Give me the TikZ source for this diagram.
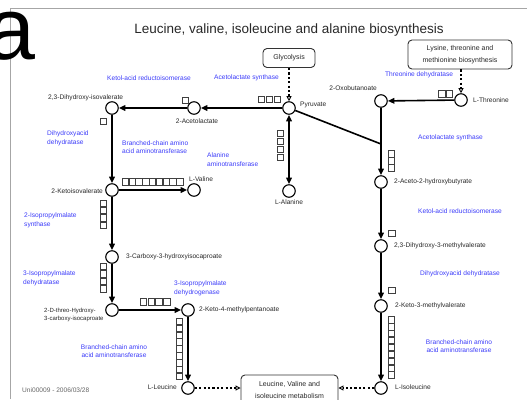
\documentclass[tikz,border=0pt]{standalone}
\usepackage{fontspec}
\setmainfont{Liberation Sans}
\usetikzlibrary{arrows.meta}
\definecolor{enzblue}{RGB}{60,60,250}
\definecolor{txtgray}{RGB}{40,40,40}
\newcommand\enzrow[4]{\foreach \k in {1,...,#3}{\draw[ebox] ({#1+(\k-1)*#4},#2) rectangle ++(6.4,6.4);}}
\newcommand\enzcol[4]{\foreach \k in {1,...,#3}{\draw[ebox] (#1,{#2+(\k-1)*#4}) rectangle ++(6.4,6.4);}}
\begin{document}
\begin{tikzpicture}[x=1pt,y=-1pt,
  met/.style={circle,draw=black,line width=1.1pt,fill=white,minimum size=12.5pt,inner sep=0pt},
  ebox/.style={draw=black!75,line width=0.6pt},
  lbl/.style={font=\fontsize{6.6}{7.8}\selectfont,text=txtgray,inner sep=0pt},
  enz/.style={font=\fontsize{6.6}{8.6}\selectfont,text=enzblue,inner sep=0pt},
  pathbox/.style={draw=black!80,rounded corners=4pt,line width=0.9pt,fill=white,
    font=\fontsize{7}{11.5}\selectfont,text=txtgray,align=center,inner sep=0pt},
  rx/.style={line width=1.6pt,-{Triangle[length=6.5pt,width=5.5pt]}},
  rxb/.style={line width=1.6pt,{Triangle[length=6.5pt,width=5.5pt]}-{Triangle[length=6.5pt,width=5.5pt]}},
  link/.style={line width=1.6pt,dash pattern=on 2.2pt off 2.2pt,-{Triangle[open,length=5pt,width=5pt,line width=0.9pt]}}]
\clip (0,0) rectangle (527,399);
\fill[white] (0,0) rectangle (527,399);
% frame
\draw[black!35,line width=0.8pt] (10,399) -- (10,8) -- (527,8);
\node[font=\fontsize{88}{88}\selectfont,inner sep=0pt,anchor=base east] (panel) at (36,59) {a};
\node[font=\fontsize{13.5}{15}\selectfont,text=txtgray,inner sep=0pt] (title) at (289,30) {Leucine, valine, isoleucine and alanine biosynthesis};

% linked pathways
\node[pathbox,minimum width=52pt,minimum height=19pt] (glyc) at (289,58) {Glycolysis};
\node[pathbox,minimum width=104pt,minimum height=29pt] (lys) at (460,54.5) {Lysine, threonine and\\methionine biosynthesis};
\node[pathbox,minimum width=97pt,minimum height=30pt] (lvim) at (289.5,390) {Leucine, Valine and\\isoleucine metabolism};

% metabolites
\node[met] (dhiv) at (112,108) {};
\node[met] (acl) at (194,108) {};
\node[met] (pyr) at (289,108) {};
\node[met] (kiv) at (112,190) {};
\node[met] (val) at (194,190) {};
\node[met] (ala) at (289,191) {};
\node[met] (cbx) at (112,257) {};
\node[met] (dth) at (112,310) {};
\node[met] (kmp) at (188,310) {};
\node[met] (leu) at (188,388) {};
\node[met] (oxo) at (381,101) {};
\node[met] (thr) at (461,100) {};
\node[met] (ahb) at (381,182) {};
\node[met] (dmv) at (381,246) {};
\node[met] (kmv) at (381,306) {};
\node[met] (ile) at (381,388) {};
\coordinate (jn) at (381,144);

% reactions
\draw[rx] (pyr) -- (acl);
\draw[rx] (acl) -- (dhiv);
\draw[rx] (dhiv) -- (kiv);
\draw[rx] (kiv) -- (val);
\draw[rx] (kiv) -- (cbx);
\draw[rx] (cbx) -- (dth);
\draw[rx] (dth) -- (kmp);
\draw[rx] (kmp) -- (leu);
\draw[rxb] (pyr) -- (ala);
\draw[rx] (thr) -- (oxo);
\draw[rx] (oxo) -- (ahb);
\draw[line width=1.6pt] (pyr) -- (jn);
\draw[rx] (ahb) -- (dmv);
\draw[rx] (dmv) -- (kmv);
\draw[rx] (kmv) -- (ile);
\draw[link] (glyc) -- (pyr);
\draw[link] (lys.south -| thr) -- (thr);
\draw[link] (leu) -- (leu -| lvim.west);
\draw[link] (ile) -- (ile -| lvim.east);

% enzyme boxes
\enzrow{258}{96}{3}{8}
\enzrow{182}{97}{1}{7}
\enzrow{100}{118}{1}{7}
\enzrow{122}{178.5}{9}{6.8}
\enzcol{100}{200}{4}{7.3}
\enzcol{277}{130}{4}{8}
\enzcol{100}{263}{4}{7.5}
\enzrow{140}{298.5}{4}{7.8}
\enzcol{176}{318}{9}{6.9}
\enzrow{438.5}{90.5}{2}{7.8}
\enzcol{388}{150.5}{3}{7}
\enzrow{388.5}{230}{1}{7}
\enzrow{388.5}{287}{1}{7}
\enzcol{388}{316.5}{9}{6.9}

% metabolite names
\node[lbl,anchor=west] (t1) at (48,98) {2,3-Dihydroxy-isovalerate};
\node[lbl] (t2) at (197,121) {2-Acetolactate};
\node[lbl,anchor=west] (t3) at (300,105) {Pyruvate};
\node[lbl,anchor=east] (t4) at (103,191) {2-Ketoisovalerate};
\node[lbl,anchor=west] (t5) at (189,179) {L-Valine};
\node[lbl] (t6) at (289,202) {L-Alanine};
\node[lbl,anchor=west] (t7) at (126,257) {3-Carboxy-3-hydroxyisocaproate};
\node[lbl,anchor=west,align=left,font=\fontsize{6}{7.8}\selectfont] (t8) at (44,315) {2-D-threo-Hydroxy-\\3-carboxy-isocaproate};
\node[lbl,anchor=west] (t9) at (199,310) {2-Keto-4-methylpentanoate};
\node[lbl,anchor=east] (t10) at (177,387) {L-Leucine};
\node[lbl,anchor=east] (t11) at (377,88) {2-Oxobutanoate};
\node[lbl,anchor=west] (t12) at (473,100) {L-Threonine};
\node[lbl,anchor=west] (t13) at (394,182) {2-Aceto-2-hydroxybutyrate};
\node[lbl,anchor=west] (t14) at (394,246) {2,3-Dihydroxy-3-methylvalerate};
\node[lbl,anchor=west] (t15) at (395,306) {2-Keto-3-methylvalerate};
\node[lbl,anchor=west] (t16) at (395,387) {L-Isoleucine};

% enzyme names
\node[enz,anchor=west] (e1) at (107,78) {Ketol-acid reductoisomerase};
\node[enz,anchor=west] (e2) at (214,78) {Acetolactate synthase};
\node[enz,anchor=west] (e3) at (385,75) {Threonine dehydratase};
\node[enz,anchor=west,align=left] (e4) at (47,138) {Dihydroxyacid\\dehydratase};
\node[enz,anchor=west,align=left] (e5) at (122,147) {Branched-chain amino\\acid aminotransferase};
\node[enz,anchor=west,align=left] (e6) at (207,159.5) {Alanine\\aminotransferase};
\node[enz,anchor=west,align=left] (e7) at (24,220.5) {2-Isopropylmalate\\synthase};
\node[enz,anchor=west,align=left] (e8) at (23,278.5) {3-Isopropylmalate\\dehydratase};
\node[enz,anchor=west,align=left] (e9) at (174,288) {3-Isopropylmalate\\dehydrogenase};
\node[enz,align=center] (e10) at (114,351) {Branched-chain amino\\acid aminotransferase};
\node[enz,anchor=west] (e11) at (418,138) {Acetolactate synthase};
\node[enz,anchor=west] (e12) at (418,211) {Ketol-acid reductoisomerase};
\node[enz,anchor=west] (e13) at (420,274) {Dihydroxyacid dehydratase};
\node[enz,align=center] (e14) at (459,346) {Branched-chain amino\\acid aminotransferase};

\node[lbl,anchor=west,text=black!60] (stamp) at (22,390) {Uni00009 - 2006/03/28};
\end{tikzpicture}
\end{document}
